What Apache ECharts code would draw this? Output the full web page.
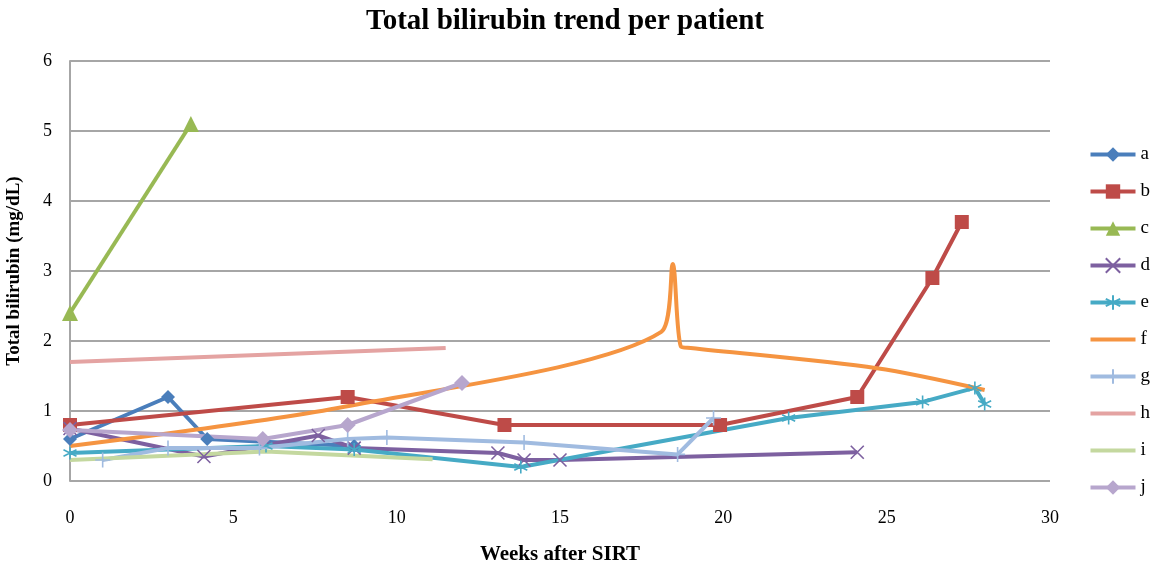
<!DOCTYPE html>
<html><head><meta charset="utf-8">
<script src="https://cdn.jsdelivr.net/npm/echarts@6/dist/echarts.min.js"></script>
<style>html,body{margin:0;padding:0;background:#fff}#c{width:1158px;height:570px}</style>
</head><body><div id="c"></div>
<script>
const seriesNames = ['a','b','c','d','e','f','g','h','i','j'];
const a = [[0,0.6],[3,1.2],[4.2,0.6],[8.7,0.5]];
const b = [[0,0.8],[8.5,1.2],[13.3,0.8],[19.9,0.8],[24.1,1.2],[26.4,2.9],[27.3,3.7]];
const c = [[0,2.4],[3.7,5.1]];
const d = [[0,0.75],[4.1,0.35],[7.6,0.65],[8.7,0.47],[13.1,0.4],[13.9,0.3],[15,0.3],[24.1,0.41]];
const e = [[0,0.4],[6,0.5],[8.7,0.45],[13.8,0.2],[22,0.9],[26.1,1.13],[27.7,1.33],[28,1.1]];
const f = [[0,0.5],[8.4,1.06],[18.1,2.13],[18.45,3.1],[18.7,1.92],[19,1.9],[24.7,1.61],[28,1.3]];
const g = [[1,0.3],[3,0.47],[5.8,0.47],[8.5,0.6],[9.7,0.62],[13.9,0.55],[18.6,0.38],[19.7,0.9]];
const h = [[0,1.7],[11.5,1.9]];
const i = [[0,0.3],[6,0.42],[11.1,0.31]];
const j = [[0,0.73],[5.9,0.6],[8.5,0.8],[12,1.4]];
const xTicks = [0,5,10,15,20,25,30];
const yTicks = [0,1,2,3,4,5,6];

const dataMap = {a,b,c,d,e,f,g,h,i,j};
const colors = {a:'#4a7ebb',b:'#be4b48',c:'#98b954',d:'#7d60a0',e:'#46aac5',f:'#f59441',g:'#a0bbe0',h:'#e4a3a2',i:'#c4d89f',j:'#b7a6cd'};
const XPATH = 'path://M0,0L10,10M10,0L0,10';
const STAR = 'path://M5,0L5,10M0,2.5L10,7.5M10,2.5L0,7.5';
const PLUS = 'path://M5,0L5,10M0,5L10,5';
const symbols = {a:['diamond',14],b:['rect',14],c:['triangle',16],d:[XPATH,13],e:[STAR,13],f:['none',0],g:[PLUS,15],h:['none',0],i:['none',0],j:['diamond',16]};
const strokeSym = {d:true,e:true,g:true};
const noMarker = {f:true,h:true,i:true};

const serif = '"Liberation Serif","DejaVu Serif",serif';
const series = seriesNames.map(n => ({
  name: n, type: 'line', data: dataMap[n],
  smooth: n === 'f' ? 0.3 : false,
  symbol: symbols[n][0], symbolSize: symbols[n][1], showSymbol: symbols[n][0] !== 'none',
  lineStyle: {color: colors[n], width: 4},
  itemStyle: strokeSym[n] ? {color: colors[n], borderColor: colors[n], borderWidth: 1.6} : {color: colors[n]},
  emphasis: {disabled: true}
}));

const legendData = seriesNames.map(n => noMarker[n] ? {name: n, itemStyle: {opacity: 0}} : {name: n});

const chart = echarts.init(document.getElementById('c'), null, {renderer: 'canvas'});
chart.setOption({
  animation: false,
  backgroundColor: '#fff',
  title: {text: 'Total bilirubin trend per patient', left: 560, top: 2, textAlign: 'center',
    textStyle: {fontFamily: serif, fontSize: 29, fontWeight: 'bold', color: '#000'}},
  legend: {orient: 'vertical', right: 3, top: 140, itemWidth: 45, itemHeight: 18, itemGap: 18,
    lineStyle: {width: 4},
    textStyle: {fontFamily: serif, fontSize: 19, color: '#000'}, data: legendData, selectedMode: false},
  grid: {left: 70, right: 108, top: 61, bottom: 89, containLabel: false, outerBoundsMode: 'none'},
  xAxis: {type: 'value', min: 0, max: 30, interval: 5,
    name: 'Weeks after SIRT', nameLocation: 'middle', nameGap: 63,
    nameTextStyle: {fontFamily: serif, fontSize: 21, fontWeight: 'bold', color: '#000'},
    axisLine: {show: false}, axisTick: {show: false}, splitLine: {show: false},
    axisLabel: {margin: 28, fontFamily: serif, fontSize: 18, color: '#000', formatter: v => xTicks.includes(v) ? String(v) : ''}},
  yAxis: {type: 'value', min: 0, max: 6, interval: 1,
    name: 'Total bilirubin (mg/dL)', nameLocation: 'middle', nameGap: 46,
    nameTextStyle: {fontFamily: serif, fontSize: 19, fontWeight: 'bold', color: '#000'},
    axisLine: {show: true, lineStyle: {color: '#a6a6a6', width: 2}}, axisTick: {show: false},
    splitLine: {show: true, lineStyle: {color: '#a6a6a6', width: 2}},
    axisLabel: {margin: 18, fontFamily: serif, fontSize: 18, color: '#000', formatter: v => yTicks.includes(v) ? String(v) : ''}},
  series: series
});
</script></body></html>
